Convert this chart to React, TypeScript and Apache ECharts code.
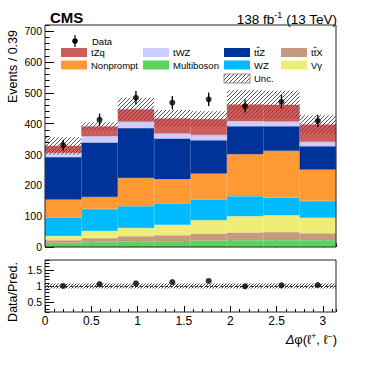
import React, { useEffect, useRef } from "react";
import * as echarts from "echarts";

// ---- data ----
const binCenters = ["0.20", "0.59", "0.98", "1.37", "1.77", "2.16", "2.55", "2.95"];
const multiboson = [13, 16, 18, 17, 21, 22, 22, 22];
const ttX = [9, 13, 17, 21, 23, 25, 27, 23];
const vGamma = [14, 23, 27, 34, 43, 53, 54, 50];
const wz = [59, 71, 70, 69, 67, 65, 57, 54];
const nonprompt = [59, 39, 92, 79, 84, 136, 152, 102];
const ttZ = [138, 177, 162, 132, 108, 91, 80, 76];
const tWZ = [13, 20, 20, 16, 17, 16, 15, 14];
const tZq = [23, 32, 41, 49, 52, 54, 54, 56];
const uncertainty = [28, 14, 37, 27, 25, 46, 46, 30];
const dataValues = [330, 413, 484, 468, 479, 457, 471, 409];
const dataErrors = [18, 20, 22, 22, 22, 21, 22, 20];
const ratioValues = [1.0, 1.06, 1.08, 1.12, 1.155, 0.99, 1.02, 1.03];
const ratioUnc = [0.08, 0.08, 0.08, 0.08, 0.08, 0.08, 0.08, 0.08];
const xMajorTicks = [0, 0.5, 1, 1.5, 2, 2.5, 3];
const yMajorTicks = [0, 100, 200, 300, 400, 500, 600, 700];
const ratioMajorTicks = [0.5, 1, 1.5];

const processes = [
  { name: "Multiboson", label: "Multiboson", bar: false, values: multiboson, color: "#5ad35a" },
  { name: "ttbarX", label: "ttX", bar: true, values: ttX, color: "#c59a7d" },
  { name: "Vgamma", label: "V\u03b3", bar: false, values: vGamma, color: "#eeee77" },
  { name: "WZ", label: "WZ", bar: false, values: wz, color: "#00bbff" },
  { name: "Nonprompt", label: "Nonprompt", bar: false, values: nonprompt, color: "#ff9933" },
  { name: "ttbarZ", label: "ttZ", bar: true, values: ttZ, color: "#003399" },
  { name: "tWZ", label: "tWZ", bar: false, values: tWZ, color: "#ccccff" },
  { name: "tZq", label: "tZq", bar: false, values: tZq, color: "#cd5c5c" },
];

const FONT = "'Liberation Sans', Arial, Helvetica, sans-serif";

function makeHatch(color: string, size: number) {
  const c = document.createElement("canvas");
  c.width = size;
  c.height = size;
  const ctx = c.getContext("2d")!;
  ctx.strokeStyle = color;
  ctx.lineWidth = 1;
  ctx.beginPath();
  ctx.moveTo(0, size);
  ctx.lineTo(size, 0);
  ctx.moveTo(-1, 1);
  ctx.lineTo(1, -1);
  ctx.moveTo(size - 1, size + 1);
  ctx.lineTo(size + 1, size - 1);
  ctx.stroke();
  return { image: c, repeat: "repeat", imageWidth: size, imageHeight: size } as any;
}

export default function App() {
  const ref = useRef<HTMLDivElement>(null);

  useEffect(() => {
    if (!ref.current) return;
    const chart = echarts.init(ref.current, undefined, { renderer: "svg" });
    const hatch = makeHatch("#555555", 4);
    const hatchRatio = makeHatch("#444444", 3);

    const totals = binCenters.map((_, i) =>
      processes.reduce((s, p) => s + p.values[i], 0)
    );

    const left = 45, right = 336, top0 = 25, h0 = 222, top1 = 260, h1 = 52;
    const width = right - left;

    const tickStyle = { color: "#000", width: 1 };
    const xMinorFmt = (v: number) => {
      const r = Math.round(v * 2) / 2;
      return Math.abs(v - r) < 1e-6 && r <= 3 ? String(r) : "";
    };

    const barSeries = processes.map((p) => ({
      type: "bar",
      name: p.name,
      stack: "mc",
      xAxisIndex: 2,
      yAxisIndex: 0,
      barCategoryGap: "0%",
      data: p.values,
      itemStyle: { color: p.color, borderColor: p.color, borderWidth: 0.5 },
      z: 2,
    }));

    const legendCols = [61, 143, 224, 281];
    const legendRows = [52.5, 65, 78.5];
    const legendLayout: { name: string; col: number; row: number }[] = [
      { name: "tZq", col: 0, row: 0 },
      { name: "tWZ", col: 1, row: 0 },
      { name: "ttbarZ", col: 2, row: 0 },
      { name: "ttbarX", col: 3, row: 0 },
      { name: "Nonprompt", col: 0, row: 1 },
      { name: "Multiboson", col: 1, row: 1 },
      { name: "WZ", col: 2, row: 1 },
      { name: "Vgamma", col: 3, row: 1 },
    ];
    const legendGraphics: any[] = [];
    legendLayout.forEach((l) => {
      const p = processes.find((q) => q.name === l.name)!;
      const x = legendCols[l.col];
      const y = legendRows[l.row];
      legendGraphics.push({
        type: "rect",
        shape: { x, y: y - 4.5, width: 26, height: 9 },
        style: { fill: p.color },
        z: 50,
      });
      legendGraphics.push({
        type: "text",
        x: x + 30,
        y,
        style: { text: p.label, fontSize: 9.5, fontFamily: FONT, fill: "#000", verticalAlign: "middle" },
        z: 50,
      });
      if (p.bar) {
        // overline on the second "t" (anti-top)
        legendGraphics.push({
          type: "line",
          shape: { x1: x + 32.7, y1: y - 5.2, x2: x + 35.6, y2: y - 5.2 },
          style: { stroke: "#000", lineWidth: 0.8 },
          z: 50,
        });
      }
    });
    // Unc. entry
    legendGraphics.push({
      type: "rect",
      shape: { x: 224, y: legendRows[2] - 4.5, width: 26, height: 9 },
      style: { fill: hatch, stroke: "#777", lineWidth: 0.8 },
      z: 50,
    });
    legendGraphics.push({
      type: "text",
      x: 254,
      y: legendRows[2],
      style: { text: "Unc.", fontSize: 9.5, fontFamily: FONT, fill: "#000", verticalAlign: "middle" },
      z: 50,
    });
    // Data entry
    legendGraphics.push({
      type: "line",
      shape: { x1: 75, y1: 35, x2: 75, y2: 47 },
      style: { stroke: "#000", lineWidth: 1.2 },
      z: 50,
    });
    legendGraphics.push({
      type: "circle",
      shape: { cx: 75, cy: 41, r: 2.8 },
      style: { fill: "#000" },
      z: 51,
    });
    legendGraphics.push({
      type: "text",
      x: 92,
      y: 41,
      style: { text: "Data", fontSize: 9.5, fontFamily: FONT, fill: "#000", verticalAlign: "middle" },
      z: 50,
    });

    const option: any = {
      animation: false,
      textStyle: { fontFamily: FONT },
      grid: [
        { left, top: top0, width, height: h0, containLabel: false },
        { left, top: top1, width, height: h1, containLabel: false },
      ],
      xAxis: [
        {
          type: "value", gridIndex: 0, position: "bottom", min: 0, max: Math.PI, interval: 0.1,
          axisLine: { show: false }, splitLine: { show: false },
          axisTick: { show: true, inside: true, length: 3.5, lineStyle: tickStyle },
          axisLabel: { show: false },
        },
        {
          type: "value", gridIndex: 0, position: "bottom", min: 0, max: Math.PI,
          axisLine: { show: false }, splitLine: { show: false },
          axisTick: { show: true, inside: true, length: 7, lineStyle: tickStyle, customValues: xMajorTicks },
          axisLabel: { show: false },
        },
        { type: "category", gridIndex: 0, data: binCenters, show: false },
        {
          type: "value", gridIndex: 1, position: "bottom", min: 0, max: Math.PI, interval: 0.1,
          axisLine: { show: false }, splitLine: { show: false },
          axisTick: { show: true, inside: true, length: 3, lineStyle: tickStyle },
          axisLabel: { show: true, formatter: xMinorFmt, fontSize: 12, color: "#000", margin: 3, fontFamily: FONT },
        },
        {
          type: "value", gridIndex: 1, position: "bottom", min: 0, max: Math.PI,
          axisLine: { show: false }, splitLine: { show: false },
          axisTick: { show: true, inside: true, length: 6, lineStyle: tickStyle, customValues: xMajorTicks },
          axisLabel: { show: false },
        },
        { type: "category", gridIndex: 1, data: binCenters, show: false },
      ],
      yAxis: [
        {
          type: "value", gridIndex: 0, position: "left", min: 0, max: 720, interval: 20,
          axisLine: { show: false }, splitLine: { show: false },
          axisTick: { show: true, inside: true, length: 4.5, lineStyle: tickStyle },
          axisLabel: {
            show: true, fontSize: 10.5, color: "#000", margin: 3, fontFamily: FONT,
            formatter: (v: number) => (v % 100 === 0 && v <= 700 ? String(v) : ""),
          },
        },
        {
          type: "value", gridIndex: 0, position: "left", min: 0, max: 720,
          axisLine: { show: false }, splitLine: { show: false },
          axisTick: { show: true, inside: true, length: 9, lineStyle: tickStyle, customValues: yMajorTicks },
          axisLabel: { show: false },
        },
        {
          type: "value", gridIndex: 1, position: "left", min: 0.2, max: 1.8, interval: 0.1,
          axisLine: { show: false }, splitLine: { show: false },
          axisTick: { show: true, inside: true, length: 4.5, lineStyle: tickStyle },
          axisLabel: {
            show: true, fontSize: 10.5, color: "#000", margin: 3, fontFamily: FONT,
            formatter: (v: number) =>
              ratioMajorTicks.some((m) => Math.abs(v - m) < 1e-6) ? String(Math.round(v * 10) / 10) : "",
          },
        },
        {
          type: "value", gridIndex: 1, position: "left", min: 0.2, max: 1.8,
          axisLine: { show: false }, splitLine: { show: false },
          axisTick: { show: true, inside: true, length: 9, lineStyle: tickStyle, customValues: ratioMajorTicks },
          axisLabel: { show: false },
        },
      ],
      series: [
        ...barSeries,
        {
          type: "custom",
          name: "Unc.",
          xAxisIndex: 2,
          yAxisIndex: 0,
          z: 3,
          data: totals.map((t, i) => [i, t - uncertainty[i], t + uncertainty[i]]),
          renderItem: (params: any, api: any) => {
            const lo = api.coord([api.value(0), api.value(1)]);
            const hi = api.coord([api.value(0), api.value(2)]);
            const w = api.size([1, 0])[0];
            return {
              type: "rect",
              shape: { x: lo[0] - w / 2, y: hi[1], width: w, height: lo[1] - hi[1] },
              style: { fill: hatch },
            };
          },
        },
        {
          type: "custom",
          name: "DataErr",
          xAxisIndex: 2,
          yAxisIndex: 0,
          z: 4,
          data: dataValues.map((d, i) => [i, d - dataErrors[i], d + dataErrors[i]]),
          renderItem: (params: any, api: any) => {
            const lo = api.coord([api.value(0), api.value(1)]);
            const hi = api.coord([api.value(0), api.value(2)]);
            return {
              type: "line",
              shape: { x1: lo[0], y1: lo[1], x2: hi[0], y2: hi[1] },
              style: { stroke: "#000", lineWidth: 1.3 },
            };
          },
        },
        {
          type: "scatter",
          name: "Data",
          xAxisIndex: 2,
          yAxisIndex: 0,
          z: 5,
          symbol: "circle",
          symbolSize: 6,
          itemStyle: { color: "#000" },
          data: dataValues,
        },
        {
          type: "custom",
          name: "RatioUnc",
          xAxisIndex: 5,
          yAxisIndex: 2,
          z: 3,
          data: ratioUnc.map((u, i) => [i, 1 - u, 1 + u]),
          renderItem: (params: any, api: any) => {
            const lo = api.coord([api.value(0), api.value(1)]);
            const hi = api.coord([api.value(0), api.value(2)]);
            const w = api.size([1, 0])[0];
            return {
              type: "rect",
              shape: { x: lo[0] - w / 2, y: hi[1], width: w, height: lo[1] - hi[1] },
              style: { fill: hatchRatio },
            };
          },
        },
        {
          type: "scatter",
          name: "Ratio",
          xAxisIndex: 5,
          yAxisIndex: 2,
          z: 5,
          symbol: "circle",
          symbolSize: 6,
          itemStyle: { color: "#000" },
          data: ratioValues,
          markLine: {
            silent: true,
            symbol: "none",
            label: { show: false },
            lineStyle: { type: [3, 2], color: "#333", width: 1 },
            data: [{ yAxis: 1 }],
            z: 4,
          },
        },
      ],
      graphic: [
        // frames
        {
          type: "rect",
          shape: { x: left, y: top0, width, height: h0 },
          style: { fill: "none", stroke: "#222", lineWidth: 1 },
          z: 100,
        },
        {
          type: "rect",
          shape: { x: left, y: top1, width, height: h1 },
          style: { fill: "none", stroke: "#222", lineWidth: 1 },
          z: 100,
        },
        {
          type: "text",
          x: 50,
          y: 17,
          style: { text: "CMS", fontSize: 15, fontWeight: "bold", fontFamily: FONT, fill: "#000", verticalAlign: "middle" },
        },
        {
          type: "text",
          x: 337,
          y: 18,
          style: {
            text: "{a|138 fb}{s|-1}{a| (13 TeV)}",
            align: "right",
            verticalAlign: "middle",
            fontFamily: FONT,
            rich: {
              a: { fontSize: 13.5, fontFamily: FONT, fill: "#000", lineHeight: 16, verticalAlign: "bottom" },
              s: { fontSize: 9, fontFamily: FONT, fill: "#000", lineHeight: 16, verticalAlign: "top" },
            },
          },
        },
        {
          type: "text",
          x: 13,
          y: 30,
          rotation: Math.PI / 2,
          style: { text: "Events / 0.39", fontSize: 12.5, fontFamily: FONT, fill: "#000", align: "right", verticalAlign: "middle" },
        },
        {
          type: "text",
          x: 13,
          y: 292,
          rotation: Math.PI / 2,
          style: { text: "Data/Pred.", fontSize: 12.5, fontFamily: FONT, fill: "#000", align: "center", verticalAlign: "middle" },
        },
        {
          type: "text",
          x: 337,
          y: 339,
          style: {
            text: "{i|\u0394}\u03c6(\u2113{s|+}, \u2113{s|\u2212})",
            align: "right",
            verticalAlign: "middle",
            fontSize: 13,
            fontFamily: FONT,
            fill: "#000",
            rich: {
              i: { fontSize: 13, fontStyle: "italic", fontFamily: FONT, fill: "#000" },
              s: { fontSize: 8.5, fontFamily: FONT, fill: "#000", verticalAlign: "top", lineHeight: 15 },
            },
          },
        },
        ...legendGraphics,
      ],
    };

    chart.setOption(option);
    return () => chart.dispose();
  }, []);

  return (
    <div
      ref={ref}
      style={{ position: "fixed", left: 0, top: 0, width: 374, height: 367, background: "#fff" }}
    />
  );
}
